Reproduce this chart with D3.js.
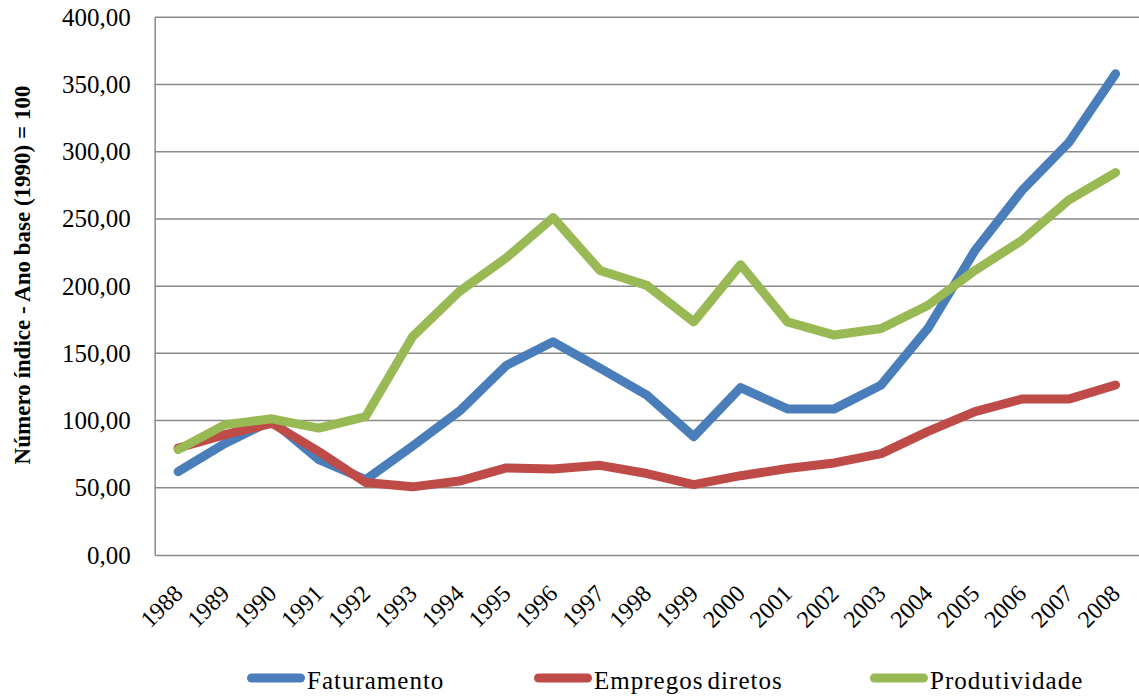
<!DOCTYPE html>
<html>
<head>
<meta charset="utf-8">
<script src="https://cdn.jsdelivr.net/npm/d3@7"></script>
<style>
  body { margin: 0; background: #fff; }
  svg { display: block; }
</style>
</head>
<body>
<svg id="chart" width="1139" height="698" font-family="'Liberation Serif', 'Times New Roman', serif"></svg>
<script>
const years = ["1988","1989","1990","1991","1992","1993","1994","1995","1996","1997","1998","1999","2000","2001","2002","2003","2004","2005","2006","2007","2008"];
const faturamento = [62, 83, 100, 71, 56, 81, 107, 141, 158.6, 139, 119, 88, 124.5, 108.7, 108.7, 126.5, 168.7, 226.5, 271, 306.7, 358];
const empregos = [79.6, 89.5, 98, 77, 54, 50.7, 55, 64.8, 64, 66.7, 60.6, 52.4, 59, 64.3, 68.5, 75.4, 92, 106.7, 116, 116, 126.5];
const produtividade = [78.4, 97, 101.3, 94.4, 103, 162.3, 196, 221, 251, 211.7, 200.6, 173.4, 216, 173.4, 163.6, 168.5, 185.8, 211.7, 234, 264, 284.5];
const yTicks = [0, 50, 100, 150, 200, 250, 300, 350, 400];
const seriesNames = ["Faturamento", "Empregos diretos", "Produtividade"];
const colors = ["#4A7EBB", "#BE4B48", "#98B954"];
const series = [faturamento, empregos, produtividade];

(function () {
const FONT = "'Liberation Serif', 'Times New Roman', serif";
const svg = d3.select("#chart");
const mLeft = 154.7, mRight = 1139, mTop = 17.3, mBottom = 555;

const x = d3.scaleBand().domain(years).range([mLeft, mRight]).padding(0);
const y = d3.scaleLinear().domain([0, 400]).range([mBottom, mTop]);
const cx = d => x(d) + x.bandwidth() / 2;

// gridlines
svg.append("g").selectAll("line").data(yTicks.filter(t => t > 0)).join("line")
  .attr("x1", mLeft).attr("x2", mRight)
  .attr("y1", d => y(d)).attr("y2", d => y(d))
  .attr("stroke", "#8a8a8a").attr("stroke-width", 1.5);

// y axis
const yAxis = d3.axisLeft(y).tickValues(yTicks).tickSize(0).tickPadding(24)
  .tickFormat(d => d3.format(".2f")(d).replace(".", ","));
const gy = svg.append("g").attr("transform", `translate(${mLeft},0)`).call(yAxis)
  .attr("font-family", FONT);
gy.select(".domain").attr("stroke", "#8a8a8a").attr("stroke-width", 1.5);
gy.selectAll("text").attr("font-size", 25).attr("fill", "#000");

// x axis
const xAxis = d3.axisBottom(x).tickSize(0).tickFormat(d => d);
const gx = svg.append("g").attr("transform", `translate(0,${mBottom})`).call(xAxis)
  .attr("font-family", FONT);
gx.select(".domain").attr("stroke", "#8a8a8a").attr("stroke-width", 1.5);
gx.selectAll("text")
  .attr("font-size", 24).attr("fill", "#000")
  .attr("text-anchor", "end")
  .attr("y", 0).attr("dy", 0)
  .attr("transform", "translate(6,40) rotate(-45)");

// y title
svg.append("text")
  .attr("transform", `translate(30,275) rotate(-90)`)
  .attr("text-anchor", "middle")
  .attr("font-family", FONT)
  .attr("font-size", 23).attr("font-weight", "bold")
  .text("Número índice - Ano base (1990) = 100");

// lines
const line = d3.line().x((d, i) => cx(years[i])).y(d => y(d));
svg.append("g").selectAll("path").data(series).join("path")
  .attr("d", d => line(d))
  .attr("fill", "none")
  .attr("stroke", (d, i) => colors[i])
  .attr("stroke-width", 9)
  .attr("stroke-linejoin", "round")
  .attr("stroke-linecap", "round");

// legend
const legendX = [247, 534, 870];
const lg = svg.append("g").selectAll("g").data(seriesNames).join("g")
  .attr("transform", (d, i) => `translate(${legendX[i]},678)`);
lg.append("line").attr("x1", 4.5).attr("x2", 53.5).attr("y1", 0).attr("y2", 0)
  .attr("stroke", (d, i) => colors[i]).attr("stroke-width", 9).attr("stroke-linecap", "round");
lg.append("text").attr("x", 60).attr("y", 11)
  .attr("font-family", FONT)
  .attr("font-size", 25).attr("letter-spacing", 1).attr("word-spacing", -3)
  .text(d => d);
})();
</script>
</body>
</html>
